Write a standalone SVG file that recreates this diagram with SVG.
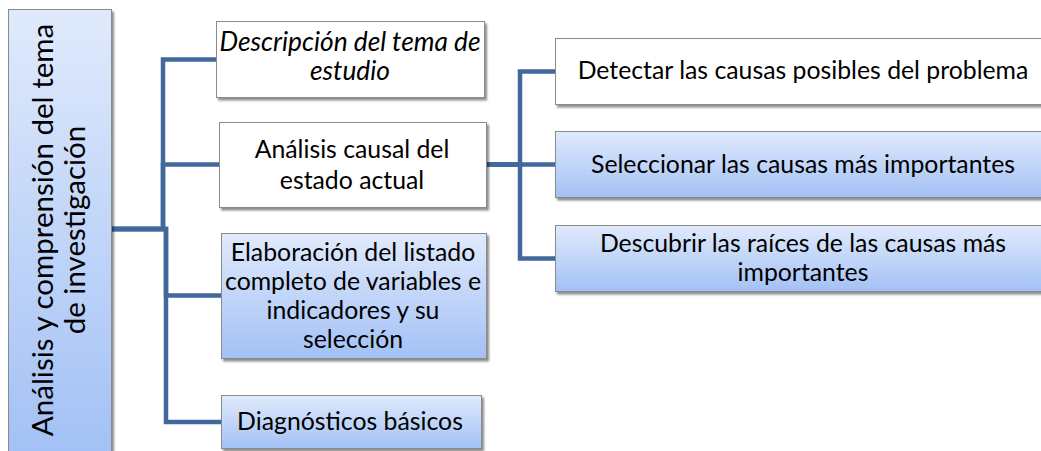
<svg xmlns="http://www.w3.org/2000/svg" width="1041" height="451" viewBox="0 0 1041 451">
  <defs>
    <linearGradient id="blue" x1="0" y1="0" x2="0" y2="1">
      <stop offset="0" stop-color="#e0eafc"/>
      <stop offset="1" stop-color="#a3c1f5"/>
    </linearGradient>
    <filter id="shadow" x="-10%" y="-10%" width="130%" height="130%">
      <feDropShadow dx="2" dy="2.5" stdDeviation="1.3" flood-color="#000" flood-opacity="0.45"/>
    </filter>
  </defs>
  <style>
    .box { stroke: #8a8a8a; stroke-width: 1; filter: url(#shadow); }
    .white { fill: #ffffff; }
    .blue { fill: url(#blue); }
    .t { font-family: Lato, "Liberation Sans", sans-serif; font-size: 24.8px; fill: #000; text-anchor: middle; }
    .it { font-style: italic; font-size: 26.3px; }
    .root { font-size: 29.5px; }
    .conn { fill: none; stroke: #41689b; stroke-width: 4.5; stroke-linejoin: miter; }
  </style>

  <g id="connectors">
    <path class="conn" d="M112,229 H163 V59.5 H217"/>
    <path class="conn" d="M112,229 H163 V164.5 H220"/>
    <path class="conn" d="M112,229 H166 V295.5 H222"/>
    <path class="conn" d="M112,229 H166 V422 H222"/>
    <path class="conn" d="M487,164.5 H520 V71.5 H556"/>
    <path class="conn" d="M487,164.5 H520 V164.5 H556"/>
    <path class="conn" d="M487,164.5 H520 V258.5 H556"/>
  </g>

  <g id="root">
    <rect class="box blue" x="8.5" y="9.5" width="103" height="445"/>
    <text class="t root" transform="translate(53,230) rotate(-90)">Análisis y comprensión del tema</text>
    <text class="t root" transform="translate(85,230) rotate(-90)">de investigación</text>
  </g>

  <g id="descripcion">
    <rect class="box white" x="216.5" y="21.5" width="268" height="76"/>
    <text class="t it" x="350" y="51">Descripción del tema de</text>
    <text class="t it" x="350" y="80">estudio</text>
  </g>

  <g id="analisis">
    <rect class="box white" x="219.5" y="122.5" width="267" height="85"/>
    <text class="t" x="352" y="158">Análisis causal del</text>
    <text class="t" x="352" y="189">estado actual</text>
  </g>

  <g id="elaboracion">
    <rect class="box blue" x="221.5" y="233.5" width="265" height="125"/>
    <text class="t" x="353" y="261">Elaboración del listado</text>
    <text class="t" x="353" y="290">completo de variables e</text>
    <text class="t" x="353" y="319">indicadores y su</text>
    <text class="t" x="353" y="348">selección</text>
  </g>

  <g id="diagnosticos">
    <rect class="box blue" x="221.5" y="395.5" width="260" height="53"/>
    <text class="t" x="350" y="430">Diagnósticos básicos</text>
  </g>

  <g id="detectar">
    <rect class="box white" x="555.5" y="38.5" width="496" height="66"/>
    <text class="t" x="803" y="79">Detectar las causas posibles del problema</text>
  </g>

  <g id="seleccionar">
    <rect class="box blue" x="555.5" y="131.5" width="496" height="66"/>
    <text class="t" x="803" y="173">Seleccionar las causas más importantes</text>
  </g>

  <g id="descubrir">
    <rect class="box blue" x="555.5" y="225.5" width="496" height="66"/>
    <text class="t" x="803" y="252">Descubrir las raíces de las causas más</text>
    <text class="t" x="803" y="281">importantes</text>
  </g>
</svg>
